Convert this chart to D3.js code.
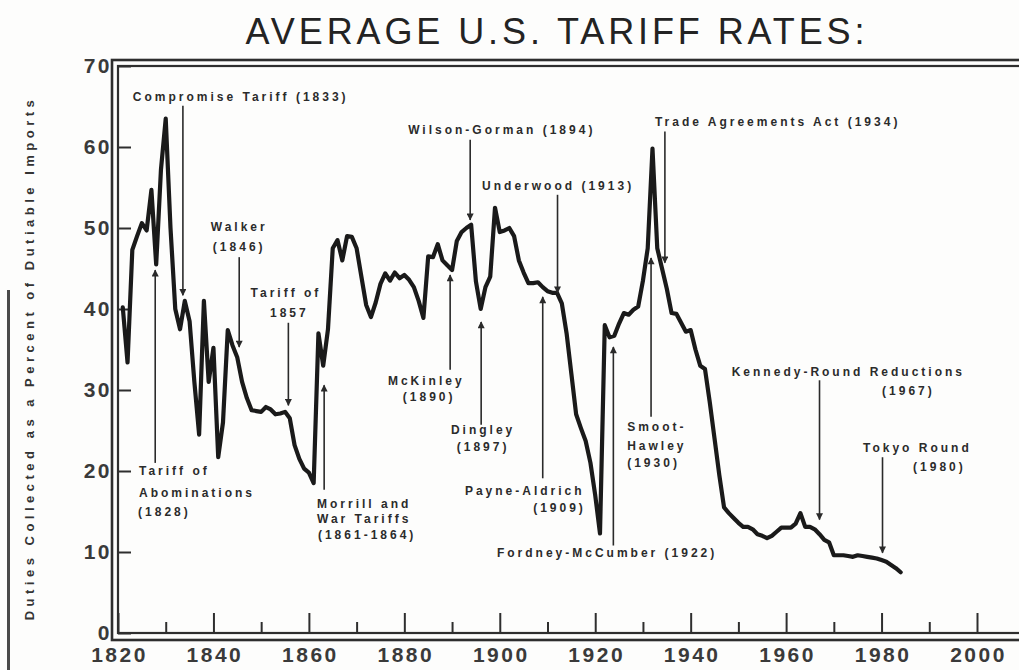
<!DOCTYPE html>
<html>
<head>
<meta charset="utf-8">
<script src="https://cdn.jsdelivr.net/npm/d3@7"></script>
<style>
  body { margin: 0; background: #fdfdfc; }
  svg { display: block; font-family: "Liberation Sans", Arial, sans-serif; }
</style>
</head>
<body>
<div id="chart"></div>
<script>
// Average U.S. tariff rates, duties as % of dutiable imports
const years = d3.range(1821, 1985);
const rates = [
  40.2, 33.4, 47.3, 49.0, 50.6, 49.7, 54.7, 45.5, 57.2, 63.5,   // 1821-1830
  50.0, 40.0, 37.5, 41.0, 38.5, 31.0, 24.5, 41.0, 31.0, 35.2,   // 1831-1840
  21.7, 26.0, 37.4, 35.5, 34.0, 31.0, 29.0, 27.5, 27.4, 27.3,   // 1841-1850
  27.9, 27.6, 27.0, 27.1, 27.3, 26.5, 23.2, 21.5, 20.3, 19.8,   // 1851-1860
  18.5, 37.0, 33.0, 37.5, 47.5, 48.5, 46.0, 49.0, 48.9, 47.5,   // 1861-1870
  44.0, 40.5, 39.0, 40.8, 43.1, 44.4, 43.5, 44.5, 43.8, 44.2,   // 1871-1880
  43.6, 42.7, 41.0, 38.9, 46.5, 46.4, 48.0, 46.0, 45.4, 44.8,   // 1881-1890
  48.4, 49.5, 50.0, 50.4, 43.4, 40.0, 42.7, 44.0, 52.5, 49.5,   // 1891-1900
  49.7, 50.0, 49.0, 46.0, 44.5, 43.2, 43.2, 43.3, 42.7, 42.2,   // 1901-1910
  42.0, 42.0, 40.7, 37.0, 32.0, 27.0, 25.3, 23.7, 21.0, 17.0,   // 1911-1920
  12.3, 38.0, 36.5, 36.7, 38.2, 39.5, 39.3, 39.9, 40.3, 43.5,   // 1921-1930
  47.5, 59.8, 47.5, 45.0, 42.5, 39.5, 39.4, 38.3, 37.2, 37.4,   // 1931-1940
  35.0, 33.0, 32.6, 28.5, 24.0, 19.5, 15.5, 14.8, 14.2, 13.6,   // 1941-1950
  13.1, 13.1, 12.8, 12.2, 12.0, 11.7, 12.0, 12.5, 13.0, 13.0,   // 1951-1960
  13.0, 13.5, 14.8, 13.1, 13.1, 12.8, 12.2, 11.5, 11.2, 9.6,    // 1961-1970
  9.6, 9.6, 9.5, 9.4, 9.6, 9.5, 9.4, 9.3, 9.2, 9.0,             // 1971-1980
  8.8, 8.4, 8.0, 7.5                                            // 1981-1984
];

const yTicks = [0, 10, 20, 30, 40, 50, 60, 70];
const xMajorTicks = [1820, 1840, 1860, 1880, 1900, 1920, 1940, 1960, 1980, 2000];
const xMinorTicks = [1830, 1850, 1870, 1890, 1910, 1930, 1950, 1970, 1990];

// tariff acts: arrow at year, from value -> to value, text lines [label, year, value, anchor]
const annotations = [
  { year: 1833.6, from: 65.1, to: 41.7, lines: [["Compromise Tariff (1833)", 1823.1, 65.7, "start"]] },
  { year: 1827.8, from: 21.0, to: 44.8, lines: [["Tariff of", 1824.4, 19.5, "start"], ["Abominations", 1824.4, 16.8, "start"], ["(1828)", 1824.2, 14.4, "start"]] },
  { year: 1845.4, from: 46.4, to: 35.3, lines: [["Walker", 1845.4, 49.6, "middle"], ["(1846)", 1845.4, 47.2, "middle"]] },
  { year: 1855.7, from: 38.3, to: 28.1, lines: [["Tariff of", 1855.2, 41.5, "middle"], ["1857", 1855.9, 39.0, "middle"]] },
  { year: 1863.2, from: 17.7, to: 30.6, lines: [["Morrill and", 1861.7, 15.4, "start"], ["War Tariffs", 1861.7, 13.6, "start"], ["(1861-1864)", 1861.9, 11.6, "start"]] },
  { year: 1889.6, from: 32.5, to: 44.2, lines: [["McKinley", 1884.6, 30.6, "middle"], ["(1890)", 1885.2, 28.6, "middle"]] },
  { year: 1896.1, from: 25.7, to: 38.4, lines: [["Dingley", 1896.5, 24.6, "middle"], ["(1897)", 1896.5, 22.5, "middle"]] },
  { year: 1893.8, from: 60.9, to: 51.0, lines: [["Wilson-Gorman (1894)", 1880.8, 61.6, "start"]] },
  { year: 1912.1, from: 54.1, to: 42.0, lines: [["Underwood (1913)", 1896.3, 54.7, "start"]] },
  { year: 1909.0, from: 19.1, to: 41.5, lines: [["Payne-Aldrich", 1892.7, 17.0, "start"], ["(1909)", 1907.0, 14.9, "start"]] },
  { year: 1923.8, from: 10.8, to: 35.3, lines: [["Fordney-McCumber (1922)", 1899.4, 9.4, "start"]] },
  { year: 1931.7, from: 26.7, to: 46.3, lines: [["Smoot-", 1926.7, 24.9, "start"], ["Hawley", 1926.7, 22.6, "start"], ["(1930)", 1926.7, 20.5, "start"]] },
  { year: 1934.6, from: 61.9, to: 45.7, lines: [["Trade Agreements Act (1934)", 1932.5, 62.6, "start"]] },
  { year: 1967.0, from: 31.2, to: 14.0, lines: [["Kennedy-Round Reductions", 1948.6, 31.7, "start"], ["(1967)", 1980.1, 29.4, "start"]] },
  { year: 1980.2, from: 21.7, to: 9.9, lines: [["Tokyo Round", 1976.1, 22.4, "start"], ["(1980)", 1986.6, 20.0, "start"]] }
];

const series = years.map((yr, i) => ({ year: yr, rate: rates[i] }));

const width = 1019, height = 670;
const ink = "#232323";

const svg = d3.select("#chart").append("svg")
  .attr("width", width)
  .attr("height", height);

const x = d3.scaleLinear().domain([1820, 2000]).range([118, 977]);
const y = d3.scaleLinear().domain([0, 70]).range([633, 66]);

// scan edge mark on the far left
svg.append("rect")
  .attr("x", 7).attr("y", 290).attr("width", 3).attr("height", 380)
  .attr("fill", "#4a4a4a");

// title
svg.append("text")
  .attr("x", 557).attr("y", 44)
  .attr("text-anchor", "middle")
  .attr("font-size", 36)
  .attr("letter-spacing", 3.9)
  .attr("fill", ink)
  .text("AVERAGE U.S. TARIFF RATES:");

// y axis title
svg.append("text")
  .attr("transform", "translate(34,358) rotate(-90)")
  .attr("text-anchor", "middle")
  .attr("font-size", 13)
  .attr("font-weight", "bold")
  .attr("letter-spacing", 4.5)
  .attr("fill", "#333")
  .text("Duties Collected as a Percent of Dutiable Imports");

// double frame
svg.append("rect")
  .attr("x", 112).attr("y", 60).attr("width", 930).attr("height", 580)
  .attr("fill", "none").attr("stroke", "#2e2e2e").attr("stroke-width", 2.6);
svg.append("rect")
  .attr("x", 118).attr("y", 66).attr("width", 930).attr("height", 567)
  .attr("fill", "none").attr("stroke", "#2e2e2e").attr("stroke-width", 2.2);

// axes
const yAxis = svg.append("g")
  .attr("transform", "translate(118,0)")
  .call(d3.axisLeft(y).tickValues(yTicks).tickSize(-13).tickPadding(8));

const xAxis = svg.append("g")
  .attr("transform", "translate(0,633)")
  .call(d3.axisBottom(x).tickValues(xMajorTicks).tickSize(-20).tickPadding(14).tickFormat(d3.format("d")));

const xMinor = svg.append("g")
  .attr("transform", "translate(0,633)")
  .call(d3.axisBottom(x).tickValues(xMinorTicks).tickSize(-11).tickFormat(""));

[yAxis, xAxis, xMinor].forEach(g => {
  g.select(".domain").remove();
  g.selectAll(".tick line").attr("stroke", "#2e2e2e").attr("stroke-width", 2);
  g.selectAll(".tick text")
    .attr("font-family", "Liberation Sans, Arial, sans-serif")
    .attr("font-size", 21)
    .attr("font-weight", "bold")
    .attr("letter-spacing", 2.5)
    .attr("fill", "#3a3a3a");
});
xAxis.selectAll(".tick text").attr("dx", 1);
yAxis.selectAll(".tick text").attr("dx", 2);

// data line
const line = d3.line()
  .x(d => x(d.year))
  .y(d => y(d.rate));

svg.append("path")
  .datum(series)
  .attr("fill", "none")
  .attr("stroke", "#1a1a1a")
  .attr("stroke-width", 4.2)
  .attr("stroke-linejoin", "round")
  .attr("stroke-linecap", "round")
  .attr("d", line);

// arrowheads
svg.append("defs").append("marker")
  .attr("id", "head")
  .attr("viewBox", "0 0 10 10")
  .attr("refX", 9).attr("refY", 5)
  .attr("markerUnits", "userSpaceOnUse")
  .attr("markerWidth", 9).attr("markerHeight", 7)
  .attr("orient", "auto")
  .append("path")
  .attr("d", "M0,0 L10,5 L0,10 Z")
  .attr("fill", "#2a2a2a");

const ann = svg.append("g").attr("class", "annotations");

ann.selectAll("line")
  .data(annotations)
  .enter()
  .append("line")
  .attr("x1", d => x(d.year))
  .attr("x2", d => x(d.year))
  .attr("y1", d => y(d.from))
  .attr("y2", d => y(d.to))
  .attr("stroke", "#2a2a2a")
  .attr("stroke-width", 1.6)
  .attr("marker-end", "url(#head)");

ann.selectAll("text")
  .data(annotations.flatMap(d => d.lines))
  .enter()
  .append("text")
  .attr("x", d => x(d[1]))
  .attr("y", d => y(d[2]))
  .attr("text-anchor", d => d[3])
  .attr("font-size", 12)
  .attr("font-weight", "bold")
  .attr("letter-spacing", 3)
  .attr("fill", "#2b2b2b")
  .text(d => d[0]);
</script>
</body>
</html>
